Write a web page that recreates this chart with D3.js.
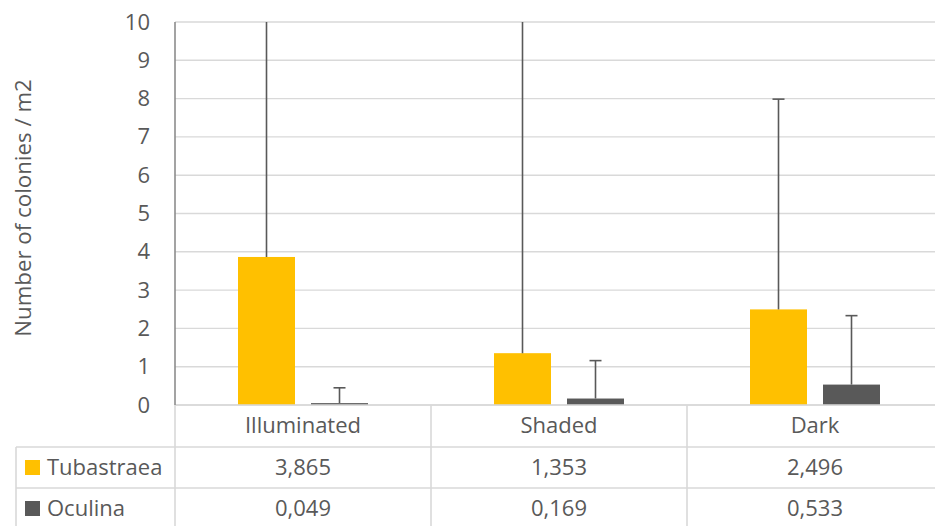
<!DOCTYPE html>
<html>
<head>
<meta charset="utf-8">
<script src="https://cdn.jsdelivr.net/npm/d3@7"></script>
<style>
  html, body { margin: 0; padding: 0; background: #fff; }
  svg { display: block; font-family: "Open Sans", Lato, sans-serif; }
</style>
</head>
<body>
<svg id="chart" width="935" height="526"></svg>
<script>
// Colony density per light condition, with upper error bars
const categories = ["Illuminated", "Shaded", "Dark"];
const seriesNames = ["Tubastraea", "Oculina"];
const tubastraea = [3.865, 1.353, 2.496];
const oculina = [0.049, 0.169, 0.533];
const tubastraeaErr = [9.6, 10.1, 5.49];
const oculinaErr = [0.40, 0.99, 1.80];
const yTicks = [0, 1, 2, 3, 4, 5, 6, 7, 8, 9, 10];
const yTitle = "Number of colonies / m2";

const colors = ["#FFC000", "#595959"];
const textColor = "#595959";
const gridColor = "#D9D9D9";
const fontFamily = "'Open Sans', Lato, sans-serif";

const svg = d3.select("#chart");

const plot = { left: 175, right: 943, top: 22, bottom: 405 };
const rowH = [42, 41, 41];          // header row, series rows
const tableLeft = 16;

const x = d3.scaleBand().domain(categories).range([plot.left, plot.right]).padding(0);
const y = d3.scaleLinear().domain([0, 10]).range([plot.bottom, plot.top]);

const bw = x.bandwidth();
const barW = bw * 57 / 256;
const offsets = [bw * 63 / 256, bw * 136 / 256];

// gridlines
svg.append("g")
  .selectAll("line")
  .data(yTicks)
  .join("line")
  .attr("x1", plot.left).attr("x2", plot.right)
  .attr("y1", d => y(d)).attr("y2", d => y(d))
  .attr("stroke", gridColor).attr("stroke-width", 1.4);

// y axis labels
const yAxis = d3.axisLeft(y).tickValues(yTicks).tickSize(0).tickPadding(0).tickFormat(d3.format("d"));
const ya = svg.append("g").attr("transform", `translate(${plot.left - 25},0)`).call(yAxis);
ya.select(".domain").remove();
ya.selectAll("text")
  .attr("fill", textColor)
  .style("font-size", "22px")
  .style("font-family", fontFamily);

// y axis title
svg.append("text")
  .attr("transform", `translate(31,208) rotate(-90)`)
  .attr("text-anchor", "middle")
  .attr("fill", textColor)
  .style("font-size", "22.3px")
  .text(yTitle);

// bars
const seriesValues = [tubastraea, oculina];
const seriesErr = [tubastraeaErr, oculinaErr];
const barData = [];
seriesValues.forEach((vals, s) => {
  vals.forEach((v, i) => {
    barData.push({ s, cat: categories[i], v, err: seriesErr[s][i] });
  });
});

svg.append("g")
  .selectAll("rect")
  .data(barData)
  .join("rect")
  .attr("x", d => x(d.cat) + offsets[d.s])
  .attr("width", barW)
  .attr("y", d => y(d.v))
  .attr("height", d => y(0) - y(d.v))
  .attr("fill", d => colors[d.s]);

// error bars (plus direction), clipped to the plot area
svg.append("clipPath").attr("id", "plotClip")
  .append("rect")
  .attr("x", plot.left).attr("y", plot.top)
  .attr("width", plot.right - plot.left).attr("height", plot.bottom - plot.top);

const eg = svg.append("g").attr("clip-path", "url(#plotClip)");
const capW = 12;
barData.forEach(d => {
  const cx = x(d.cat) + offsets[d.s] + barW / 2;
  const top = y(d.v + d.err);
  eg.append("line")
    .attr("x1", cx).attr("x2", cx)
    .attr("y1", y(d.v)).attr("y2", top)
    .attr("stroke", "#595959").attr("stroke-width", 1.6);
  eg.append("line")
    .attr("x1", cx - capW / 2).attr("x2", cx + capW / 2)
    .attr("y1", top).attr("y2", top)
    .attr("stroke", "#595959").attr("stroke-width", 1.6);
});

// data table
const tg = svg.append("g");
const r0 = plot.bottom, r1 = r0 + rowH[0], r2 = r1 + rowH[1], r3 = r2 + rowH[2];
const lineAttrs = sel => sel.attr("stroke", gridColor).attr("stroke-width", 1.6);

[[plot.left, r0], [tableLeft, r1], [tableLeft, r2], [tableLeft, r3]].forEach(([x0, yy]) => {
  tg.append("line").attr("x1", x0).attr("x2", plot.right).attr("y1", yy).attr("y2", yy).call(lineAttrs);
});
tg.append("line").attr("x1", tableLeft).attr("x2", tableLeft).attr("y1", r1).attr("y2", r3).call(lineAttrs);
categories.forEach(c => {
  tg.append("line").attr("x1", x(c) + bw).attr("x2", x(c) + bw).attr("y1", r0).attr("y2", r3).call(lineAttrs);
});
tg.append("line").attr("x1", plot.left).attr("x2", plot.left).attr("y1", r0).attr("y2", r3).call(lineAttrs);

// value axis line
svg.append("line")
  .attr("x1", plot.left).attr("x2", plot.left)
  .attr("y1", plot.top).attr("y2", plot.bottom)
  .attr("stroke", "#8C8C8C").attr("stroke-width", 1.6);

// category header
tg.selectAll("text.cat")
  .data(categories)
  .join("text")
  .attr("class", "cat")
  .attr("x", d => x(d) + bw / 2)
  .attr("y", r0 + 28)
  .attr("text-anchor", "middle")
  .attr("fill", textColor)
  .style("font-size", "22px")
  .text(d => d);

// series rows
const fmt = d3.formatLocale({ decimal: ",", thousands: ".", grouping: [3], currency: ["", ""] }).format(".3f");
const rowTops = [r1, r2];
seriesNames.forEach((name, s) => {
  const cy = rowTops[s] + rowH[s + 1] / 2;
  tg.append("rect")
    .attr("x", 25).attr("y", cy - 7.5)
    .attr("width", 15).attr("height", 15)
    .attr("fill", colors[s]);
  tg.append("text")
    .attr("x", 47).attr("y", cy + 7)
    .attr("fill", textColor)
    .style("font-size", "22px")
    .text(name);
  tg.selectAll(null)
    .data(seriesValues[s])
    .join("text")
    .attr("x", (d, i) => x(categories[i]) + bw / 2)
    .attr("y", cy + 7)
    .attr("text-anchor", "middle")
    .attr("fill", textColor)
    .style("font-size", "22px")
    .text(d => fmt(d));
});
</script>
</body>
</html>
